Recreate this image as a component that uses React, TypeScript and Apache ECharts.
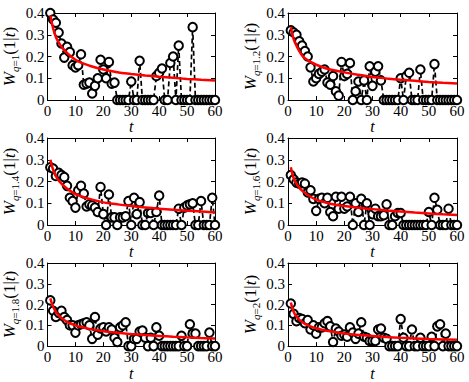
import React, { useEffect, useRef } from "react";
import * as echarts from "echarts";

const tValues = [1,2,3,4,5,6,7,8,9,10,11,12,13,14,15,16,17,18,19,20,21,22,23,24,25,26,27,28,29,30,31,32,33,34,35,36,37,38,39,40,41,42,43,44,45,46,47,48,49,50,51,52,53,54,55,56,57,58,59,60];
const fitT = [1,2,3,4,5,6,8,10,12,15,20,25,30,35,40,45,50,55,60];
const qLabels = ["1", "1.2", "1.4", "1.6", "1.8", "2"];

const obsQ1 = [0.40,0.37,0.355,0.31,0.26,0.195,0.245,0.22,0.16,0.15,0.16,0.21,0.07,0.075,0.08,0.03,0.065,0.10,0.185,0.14,0.10,0.175,0.075,0.08,0,0,0,0,0,0.085,0,0,0.18,0,0,0,0,0,0.11,0.125,0.145,0,0,0.17,0.20,0,0.25,0,0,0,0,0.335,0,0,0,0,0,0,0,0];
const obsQ12 = [0.32,0.31,0.30,0.27,0.25,0.225,0.20,0.15,0.085,0.10,0.12,0.13,0.14,0.08,0.07,0.11,0.04,0.02,0.175,0.11,0.12,0.17,0,0.04,0.085,0,0.09,0,0.155,0.065,0.13,0.155,0.09,0,0,0,0,0,0,0.10,0,0.11,0.125,0,0,0,0.14,0,0,0,0,0.165,0,0,0,0,0,0,0,0];
const obsQ14 = [0.265,0.26,0.225,0.24,0.23,0.22,0.18,0.125,0.11,0.08,0.16,0.18,0.145,0.085,0.095,0.09,0.08,0.06,0.175,0.05,0,0.14,0.035,0.035,0,0.035,0.035,0.04,0.11,0,0.125,0.05,0.105,0,0,0.055,0.055,0,0.06,0.135,0,0,0,0,0,0,0.075,0,0.08,0.09,0.095,0.10,0,0,0.11,0,0,0,0.125,0];
const obsQ16 = [0.23,0.21,0.195,0.19,0.195,0.19,0.15,0.16,0.12,0.065,0.12,0.125,0.10,0.125,0.06,0.04,0.13,0.075,0.13,0.075,0.085,0.13,0,0.10,0.06,0.12,0,0.10,0,0.05,0.075,0.04,0.04,0.045,0.095,0,0,0.04,0.055,0.055,0,0,0,0,0,0,0,0,0,0.06,0,0.125,0.07,0,0,0,0.075,0,0,0];
const obsQ18 = [0.22,0.17,0.14,0.16,0.17,0.14,0.125,0.10,0.10,0.065,0.10,0.105,0.11,0.115,0.10,0.035,0.14,0.055,0.085,0.09,0.07,0.09,0.08,0.04,0.02,0.09,0.10,0.115,0,0,0.035,0.035,0.07,0.075,0.04,0,0.04,0,0.09,0.05,0,0,0,0,0,0,0,0.05,0,0,0.105,0.06,0.06,0,0,0,0,0.065,0,0];
const obsQ2 = [0.205,0.155,0.12,0.135,0.13,0.11,0.125,0.08,0.10,0.06,0.09,0.09,0.11,0.12,0.095,0.02,0.085,0.07,0.05,0.055,0.045,0.09,0.065,0.035,0.06,0.115,0.045,0.04,0.025,0.025,0.025,0.08,0.085,0.04,0.035,0,0,0,0,0.13,0.04,0,0,0.08,0,0,0.04,0,0,0,0.045,0,0.095,0.105,0,0.06,0,0,0,0];

const fitQ1 = [0.39,0.33,0.29,0.265,0.245,0.23,0.205,0.185,0.172,0.158,0.14,0.128,0.12,0.113,0.107,0.102,0.097,0.093,0.09];
const fitQ12 = [0.335,0.28,0.25,0.225,0.205,0.192,0.175,0.162,0.152,0.14,0.127,0.116,0.106,0.099,0.093,0.088,0.083,0.079,0.076];
const fitQ14 = [0.3,0.255,0.225,0.205,0.19,0.178,0.158,0.142,0.132,0.12,0.104,0.095,0.087,0.081,0.075,0.07,0.066,0.062,0.058];
const fitQ16 = [0.265,0.215,0.19,0.172,0.158,0.148,0.13,0.117,0.108,0.098,0.087,0.079,0.073,0.067,0.062,0.057,0.053,0.049,0.046];
const fitQ18 = [0.23,0.19,0.165,0.148,0.135,0.125,0.11,0.1,0.092,0.083,0.072,0.064,0.058,0.053,0.049,0.045,0.042,0.039,0.037];
const fitQ2 = [0.21,0.165,0.142,0.127,0.116,0.107,0.095,0.086,0.079,0.071,0.061,0.054,0.049,0.044,0.04,0.037,0.034,0.032,0.03];

const observed = [obsQ1, obsQ12, obsQ14, obsQ16, obsQ18, obsQ2];
const fitted = [fitQ1, fitQ12, fitQ14, fitQ16, fitQ18, fitQ2];

const FONT = "'Liberation Serif', 'DejaVu Serif', serif";

export default function App() {
  const ref = useRef<HTMLDivElement>(null);
  useEffect(() => {
    document.body.style.margin = "0";
    const chart = echarts.init(ref.current!, null, { renderer: "svg" });
    const lefts = [46, 288];
    const tops = [13, 138, 263];
    const grids: any[] = [];
    const xAxes: any[] = [];
    const yAxes: any[] = [];
    const series: any[] = [];
    const tickCommon = { show: true, inside: true, length: 4, lineStyle: { color: "#000", width: 1 } };
    const lineCommon = { show: true, onZero: false, lineStyle: { color: "#000", width: 1 } };
    for (let i = 0; i < 6; i++) {
      const col = i % 2;
      const row = Math.floor(i / 2);
      grids.push({ left: lefts[col], top: tops[row], width: 169, height: 87, show: false });
      xAxes.push({
        gridIndex: i, type: "value", min: 0, max: 60, interval: 10, position: "bottom",
        axisLine: lineCommon, axisTick: tickCommon, splitLine: { show: false },
        axisLabel: { color: "#000", fontFamily: FONT, fontSize: 15, margin: 3 },
        name: "t", nameLocation: "middle", nameGap: 16,
        nameTextStyle: { color: "#000", fontFamily: FONT, fontSize: 16, fontStyle: "italic" },
      });
      xAxes.push({
        gridIndex: i, type: "value", min: 0, max: 60, interval: 10, position: "top",
        axisLine: lineCommon, axisTick: tickCommon, splitLine: { show: false },
        axisLabel: { show: false },
      });
      yAxes.push({
        gridIndex: i, type: "value", min: 0, max: 0.4, interval: 0.1, position: "left",
        axisLine: lineCommon, axisTick: tickCommon, splitLine: { show: false },
        axisLabel: { color: "#000", fontFamily: FONT, fontSize: 15, margin: 3 },
        name: "{i|W}{q|q}{s|=" + qLabels[i] + "}{n|(1|}{i|t}{n|)}",
        nameLocation: "middle", nameRotate: 90, nameGap: 27,
        nameTextStyle: {
          color: "#000",
          rich: {
            i: { fontFamily: FONT, fontSize: 17, fontStyle: "italic", lineHeight: 22, verticalAlign: "middle", color: "#000" },
            n: { fontFamily: FONT, fontSize: 17, lineHeight: 22, verticalAlign: "middle", color: "#000" },
            q: { fontFamily: FONT, fontSize: 11, fontStyle: "italic", lineHeight: 11, verticalAlign: "bottom", color: "#000" },
            s: { fontFamily: FONT, fontSize: 11, lineHeight: 11, verticalAlign: "bottom", color: "#000" },
          },
        },
      });
      yAxes.push({
        gridIndex: i, type: "value", min: 0, max: 0.4, interval: 0.1, position: "right",
        axisLine: lineCommon, axisTick: tickCommon, splitLine: { show: false },
        axisLabel: { show: false },
      });
      series.push({
        type: "line", xAxisIndex: 2 * i, yAxisIndex: 2 * i,
        data: tValues.map((t, k) => [t, observed[i][k]]),
        symbol: "emptyCircle", symbolSize: 8.5,
        itemStyle: { color: "#000", borderColor: "#000", borderWidth: 1.7 },
        lineStyle: { color: "#000", width: 1.7, type: [5, 3] },
        z: 2,
      });
      series.push({
        type: "line", xAxisIndex: 2 * i, yAxisIndex: 2 * i,
        data: fitT.map((t, k) => [t, fitted[i][k]]),
        symbol: "none", smooth: 0.4,
        lineStyle: { color: "#ff0000", width: 2.5 },
        z: 3,
      });
    }
    chart.setOption({
      animation: false,
      backgroundColor: "#fff",
      grid: grids,
      xAxis: xAxes,
      yAxis: yAxes,
      series,
    });
    return () => chart.dispose();
  }, []);
  return <div ref={ref} style={{ position: "absolute", left: 0, top: 0, width: 469, height: 382 }} />;
}
